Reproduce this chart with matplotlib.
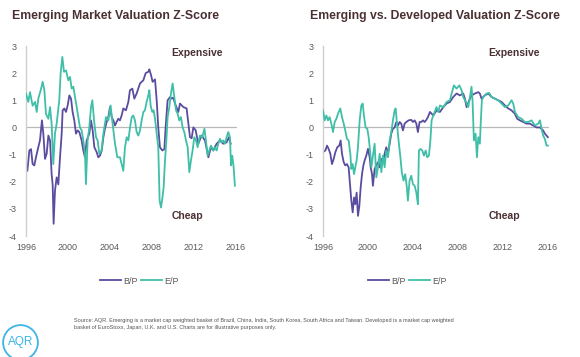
import matplotlib
matplotlib.use("Agg")
import matplotlib.pyplot as plt
from matplotlib.patches import Circle

plt.rcParams['font.family'] = ['Liberation Sans', 'DejaVu Sans']
plt.rcParams['axes.unicode_minus'] = False

# --- Emerging Market Valuation Z-Score (left) ---
em_bp_years = [1996.00, 1996.13, 1996.32, 1996.48, 1996.63, 1996.79, 1996.95, 1997.17, 1997.33, 1997.52,
               1997.65, 1997.81, 1997.97, 1998.13, 1998.29, 1998.44, 1998.54, 1998.63, 1998.76, 1998.92,
               1999.08, 1999.24, 1999.40, 1999.49, 1999.65, 1999.81, 1999.97, 2000.13, 2000.29, 2000.44,
               2000.60, 2000.76, 2000.92, 2001.08, 2001.30, 2001.46, 2001.62, 2001.78, 2002.03, 2002.19,
               2002.35, 2002.51, 2002.73, 2002.89, 2003.05, 2003.21, 2003.37, 2003.52, 2003.68, 2003.84,
               2004.00, 2004.16, 2004.32, 2004.48, 2004.63, 2004.79, 2004.95, 2005.11, 2005.27, 2005.52,
               2005.75, 2005.90, 2006.13, 2006.32, 2006.54, 2006.86, 2007.18, 2007.40, 2007.65, 2007.75,
               2007.91, 2008.06, 2008.29, 2008.45, 2008.60, 2008.76, 2008.99, 2009.18, 2009.30, 2009.49,
               2009.72, 2009.87, 2010.03, 2010.19, 2010.51, 2010.67, 2010.99, 2011.30, 2011.62, 2011.78,
               2011.94, 2012.16, 2012.41, 2012.73, 2013.05, 2013.37, 2013.62, 2013.84, 2014.16, 2014.48,
               2014.79, 2015.11, 2015.33, 2015.50]
em_bp = [-1.53, -1.60, -0.85, -0.80, -1.35, -1.40, -1.10, -0.73, -0.48, 0.26,
         -0.23, -1.16, -0.97, -0.30, -0.48, -1.72, -2.10, -3.55, -2.33, -1.84,
         -2.10, -1.10, -0.23, 0.63, 0.70, 0.57, 0.81, 1.18, 1.06, 0.57,
         0.26, -0.23, -0.11, -0.17, -0.48, -0.85, -1.10, -0.48, -0.23, 0.26,
         -0.11, -0.73, -0.91, -1.10, -1.04, -0.85, -0.36, -0.05, 0.20, 0.38,
         0.75, 0.38, 0.26, 0.07, 0.20, 0.32, 0.26, 0.44, 0.70, 0.63,
         0.94, 1.37, 1.43, 1.06, 1.25, 1.62, 1.74, 2.00, 2.05, 2.14,
         1.93, 1.68, 1.77, 1.00, 0.00, -0.73, -0.85, -0.80, 0.00, 1.00,
         1.12, 1.06, 1.10, 0.88, 0.57, 0.88, 0.75, 0.70, -0.36, -0.40,
         0.00, -0.10, -0.60, -0.30, -0.48, -1.10, -0.73, -0.85, -0.60, -0.48,
         -0.60, -0.55, -0.36, -0.60]

em_ep_years = [1996.00, 1996.22, 1996.38, 1996.63, 1996.86, 1997.02, 1997.17, 1997.40, 1997.59, 1997.75,
               1997.90, 1998.13, 1998.29, 1998.44, 1998.60, 1998.76, 1998.92, 1999.17, 1999.30, 1999.46,
               1999.62, 1999.81, 2000.03, 2000.19, 2000.35, 2000.51, 2000.67, 2000.83, 2000.98, 2001.14,
               2001.30, 2001.46, 2001.62, 2001.71, 2001.87, 2002.03, 2002.19, 2002.32, 2002.48, 2002.67,
               2002.83, 2002.98, 2003.20, 2003.37, 2003.62, 2003.84, 2004.06, 2004.25, 2004.48, 2004.70,
               2004.95, 2005.27, 2005.43, 2005.59, 2005.75, 2005.91, 2006.07, 2006.22, 2006.38, 2006.54,
               2006.70, 2006.86, 2007.02, 2007.18, 2007.33, 2007.49, 2007.65, 2007.75, 2007.87, 2008.03,
               2008.16, 2008.29, 2008.45, 2008.60, 2008.73, 2008.86, 2009.00, 2009.11, 2009.24, 2009.37,
               2009.49, 2009.65, 2009.81, 2009.97, 2010.13, 2010.29, 2010.45, 2010.60, 2010.76, 2010.92,
               2011.08, 2011.24, 2011.40, 2011.56, 2011.71, 2011.87, 2012.03, 2012.19, 2012.35, 2012.57,
               2012.79, 2013.00, 2013.14, 2013.30, 2013.46, 2013.62, 2013.84, 2014.00, 2014.16, 2014.32,
               2014.48, 2014.64, 2014.79, 2014.95, 2015.11, 2015.27, 2015.43, 2015.53, 2015.65, 2015.78,
               2015.90]
em_ep = [1.25, 0.94, 1.30, 0.80, 0.94, 0.57, 1.06, 1.37, 1.68, 1.37,
         0.50, 0.32, 0.75, 0.14, -1.35, -0.23, 0.14, 1.00, 2.00, 2.60,
         2.05, 2.10, 1.74, 1.86, 1.43, 1.50, 1.12, 0.75, 0.38, 0.00,
         -0.11, -0.48, -0.97, -2.09, -0.48, 0.00, 0.75, 1.00, 0.26, -0.36,
         -0.48, -0.97, -0.85, -0.23, 0.38, 0.26, 0.81, 0.14, -0.60, -1.10,
         -1.10, -1.60, -0.73, -0.36, -0.48, 0.00, 0.38, 0.44, 0.26, -0.17,
         -0.30, -0.11, 0.26, 0.57, 0.63, 0.94, 1.18, 1.37, 0.81, 0.57,
         0.63, 0.32, -0.23, -0.73, -2.70, -2.95, -2.58, -2.21, -1.22, -0.48,
         0.38, 0.75, 1.25, 1.62, 1.12, 0.63, 0.50, 0.26, 0.38, 0.00,
         -0.17, -0.48, -0.73, -1.65, -1.22, -0.85, -0.36, -0.48, -0.73, -0.30,
         -0.36, -0.05, -0.48, -1.04, -0.85, -0.67, -0.85, -0.73, -0.85, -0.60,
         -0.42, -0.55, -0.48, -0.60, -0.36, -0.17, -0.36, -1.40, -1.04, -1.47,
         -2.15]

# --- Emerging vs. Developed Valuation Z-Score (right) ---
ed_bp_years = [1996.00, 1996.21, 1996.36, 1996.50, 1996.65, 1996.80, 1996.95, 1997.10, 1997.27, 1997.45,
               1997.57, 1997.69, 1997.84, 1997.98, 1998.13, 1998.28, 1998.40, 1998.52, 1998.64, 1998.76,
               1998.87, 1998.99, 1999.11, 1999.23, 1999.35, 1999.47, 1999.59, 1999.70, 1999.85, 2000.00,
               2000.15, 2000.24, 2000.36, 2000.44, 2000.59, 2000.74, 2000.89, 2001.04, 2001.19, 2001.33,
               2001.48, 2001.63, 2001.78, 2001.93, 2002.07, 2002.22, 2002.37, 2002.52, 2002.67, 2002.81,
               2002.96, 2003.11, 2003.26, 2003.41, 2003.61, 2003.85, 2004.00, 2004.15, 2004.30, 2004.44,
               2004.59, 2004.74, 2004.89, 2005.04, 2005.19, 2005.33, 2005.51, 2005.81, 2006.10, 2006.40,
               2006.70, 2006.99, 2007.29, 2007.58, 2007.88, 2008.18, 2008.47, 2008.62, 2008.77, 2009.01,
               2009.21, 2009.51, 2009.81, 2009.95, 2010.10, 2010.40, 2010.70, 2010.99, 2011.29, 2011.58,
               2011.88, 2012.18, 2012.47, 2012.77, 2013.07, 2013.27, 2013.51, 2013.81, 2014.10, 2014.40,
               2014.69, 2014.99, 2015.29, 2015.58, 2015.73, 2015.88, 2016.00]
ed_bp = [-0.91, -0.85, -0.67, -0.79, -0.97, -1.35, -1.16, -0.91, -0.73, -0.67,
         -0.48, -0.97, -1.28, -1.40, -1.35, -1.47, -2.09, -2.70, -3.13, -2.58,
         -2.83, -2.40, -3.26, -2.90, -2.21, -1.72, -1.40, -1.22, -1.04, -0.79,
         -1.10, -1.47, -1.72, -2.15, -1.53, -1.40, -1.28, -1.47, -1.16, -1.28,
         -0.97, -0.73, -0.97, -0.60, -0.23, -0.05, 0.00, 0.20, 0.07, 0.20,
         0.14, -0.11, 0.14, 0.20, 0.26, 0.28, 0.20, 0.26, 0.14, -0.17,
         0.20, 0.20, 0.26, 0.20, 0.28, 0.38, 0.57, 0.44, 0.63, 0.57,
         0.75, 0.88, 0.94, 1.12, 1.25, 1.18, 1.25, 1.06, 0.75, 1.00,
         1.18, 1.25, 1.30, 1.25, 1.06, 1.18, 1.25, 1.12, 1.06, 1.00,
         0.94, 0.81, 0.70, 0.63, 0.50, 0.32, 0.26, 0.20, 0.14, 0.14,
         0.07, 0.00, 0.00, -0.11, -0.23, -0.30, -0.36]

ed_ep_years = [1996.00, 1996.15, 1996.30, 1996.44, 1996.59, 1996.74, 1996.89, 1997.04, 1997.19, 1997.33,
               1997.54, 1997.69, 1997.84, 1997.98, 1998.13, 1998.28, 1998.43, 1998.52, 1998.64, 1998.76,
               1998.87, 1998.99, 1999.11, 1999.26, 1999.41, 1999.53, 1999.64, 1999.79, 1999.94, 2000.06,
               2000.21, 2000.30, 2000.44, 2000.59, 2000.74, 2000.89, 2001.04, 2001.19, 2001.33, 2001.48,
               2001.63, 2001.78, 2001.93, 2002.07, 2002.22, 2002.37, 2002.46, 2002.58, 2002.72, 2002.87,
               2003.01, 2003.16, 2003.31, 2003.46, 2003.55, 2003.70, 2003.85, 2004.00, 2004.15, 2004.30,
               2004.44, 2004.53, 2004.68, 2004.83, 2004.98, 2005.13, 2005.27, 2005.42, 2005.55, 2005.66,
               2005.81, 2006.10, 2006.25, 2006.40, 2006.70, 2007.00, 2007.29, 2007.44, 2007.64, 2007.88,
               2008.12, 2008.33, 2008.47, 2008.71, 2008.92, 2009.07, 2009.21, 2009.30, 2009.42, 2009.57,
               2009.69, 2009.81, 2009.95, 2010.04, 2010.13, 2010.25, 2010.55, 2010.78, 2010.99, 2011.29,
               2011.58, 2011.88, 2012.18, 2012.47, 2012.77, 2012.92, 2013.07, 2013.36, 2013.66, 2013.95,
               2014.25, 2014.55, 2014.84, 2015.14, 2015.29, 2015.44, 2015.58, 2015.73, 2015.88, 2016.00]
ed_ep = [0.63, 0.26, 0.44, 0.26, 0.38, 0.14, -0.17, 0.20, 0.32, 0.50,
         0.70, 0.38, 0.14, -0.11, -0.42, -0.48, -0.97, -1.53, -1.35, -1.72,
         -1.47, -1.22, -0.73, 0.26, 0.81, 0.88, 0.44, 0.00, -0.05, -0.36,
         -0.97, -1.47, -1.04, -0.60, -1.84, -1.47, -0.97, -1.65, -1.04, -1.47,
         -0.85, -1.10, -0.48, -0.17, 0.26, 0.63, 0.70, 0.14, -0.48, -1.04,
         -1.65, -1.96, -1.72, -2.21, -2.70, -1.96, -1.78, -2.09, -2.15, -2.40,
         -2.83, -0.85, -0.79, -0.85, -1.04, -0.85, -1.10, -1.04, -0.48, 0.26,
         0.44, 0.75, 0.57, 0.81, 0.75, 0.94, 1.00, 1.25, 1.55, 1.43,
         1.55, 1.37, 1.12, 0.94, 0.75, 1.12, 1.50, 1.00, -0.48, -0.23,
         -1.10, -0.36, -0.60, 0.26, 1.00, 1.12, 1.25, 1.27, 1.12, 1.06,
         1.00, 0.88, 0.75, 0.81, 1.00, 0.88, 0.57, 0.38, 0.32, 0.20,
         0.20, 0.26, 0.07, 0.14, 0.26, -0.05, -0.30, -0.42, -0.67, -0.67]

year_ticks = [1996, 2000, 2004, 2008, 2012, 2016]
z_ticks = [-4, -3, -2, -1, 0, 1, 2, 3]

purple = '#5a4c9e'
teal = '#3fbfa7'
title_col = '#4a2f33'
tick_col = '#5a5a5a'

fig = plt.figure(figsize=(5.8, 3.57), dpi=100)
W, H = 580, 357

panels = [
    ('Emerging Market Valuation Z-Score', em_bp_years, em_bp, em_ep_years, em_ep,
     [26 / W, 121 / H, 211 / W, 190 / H], 12, 0.687, 139.5),
    ('Emerging vs. Developed Valuation Z-Score', ed_bp_years, ed_bp, ed_ep_years, ed_ep,
     [323 / W, 121 / H, 226 / W, 190 / H], 310, 0.73, 407.5),
]

for title, bx, by, ex, ey, rect, title_x, note_x, leg_x in panels:
    ax = fig.add_axes(rect)
    ax.axhline(0, color='#b8b8b8', lw=0.9, zorder=1)
    ax.plot(bx, by, color=purple, lw=1.3, label='B/P', zorder=2)
    ax.plot(ex, ey, color=teal, lw=1.3, label='E/P', zorder=3)
    ax.set_xlim(1996, 2016.1)
    ax.set_ylim(-4, 3)
    ax.set_xticks(year_ticks)
    ax.set_yticks(z_ticks)
    ax.tick_params(length=0, labelsize=6.5, colors=tick_col)
    ax.tick_params(axis='y', pad=7)
    ax.tick_params(axis='x', pad=5)
    for s in ['top', 'right', 'bottom']:
        ax.spines[s].set_visible(False)
    ax.spines['left'].set_color('#cfcfcf')
    ax.spines['left'].set_linewidth(1.0)
    ax.set_facecolor('none')

    ax.text(note_x, 0.965, 'Expensive', transform=ax.transAxes, fontsize=7.5,
            fontweight='bold', color=title_col, va='center', ha='left')
    ax.text(note_x + 0.002, 0.105, 'Cheap', transform=ax.transAxes, fontsize=7.5,
            fontweight='bold', color=title_col, va='center', ha='left')

    fig.text(title_x / W, 1 - 16 / H, title, fontsize=8.8, fontweight='bold',
             color=title_col, va='center', ha='left')

    fig.legend(handles=ax.get_lines()[1:], labels=['B/P', 'E/P'], loc='center',
               bbox_to_anchor=(leg_x / W, 1 - 281 / H), ncol=2, frameon=False,
               fontsize=6.5, handlelength=2.3, handletextpad=0.3, columnspacing=0.3,
               labelcolor=tick_col)

source = ("Source: AQR. Emerging is a market cap weighted basket of Brazil, China, India, South Korea, "
          "South Africa and Taiwan. Developed is a market cap weighted\n"
          "basket of EuroStoxx, Japan, U.K. and U.S. Charts are for illustrative purposes only.")
fig.text(74 / W, 1 - 318 / H, source, fontsize=4, color='#555555', va='top', ha='left',
         linespacing=1.6)

# AQR logo
logo = fig.add_axes([2 / W, -4 / H, 37 / W, 37 / H])
logo.set_xlim(0, 1)
logo.set_ylim(0, 1)
logo.axis('off')
logo.add_patch(Circle((0.5, 0.5), 0.47, fill=False, ec='#3db5e6', lw=1.3, clip_on=False))
logo.text(0.5, 0.52, 'AQR', color='#3db5e6', fontsize=8.5, ha='center', va='center')

fig.savefig('out.png', dpi=100, facecolor='white')
